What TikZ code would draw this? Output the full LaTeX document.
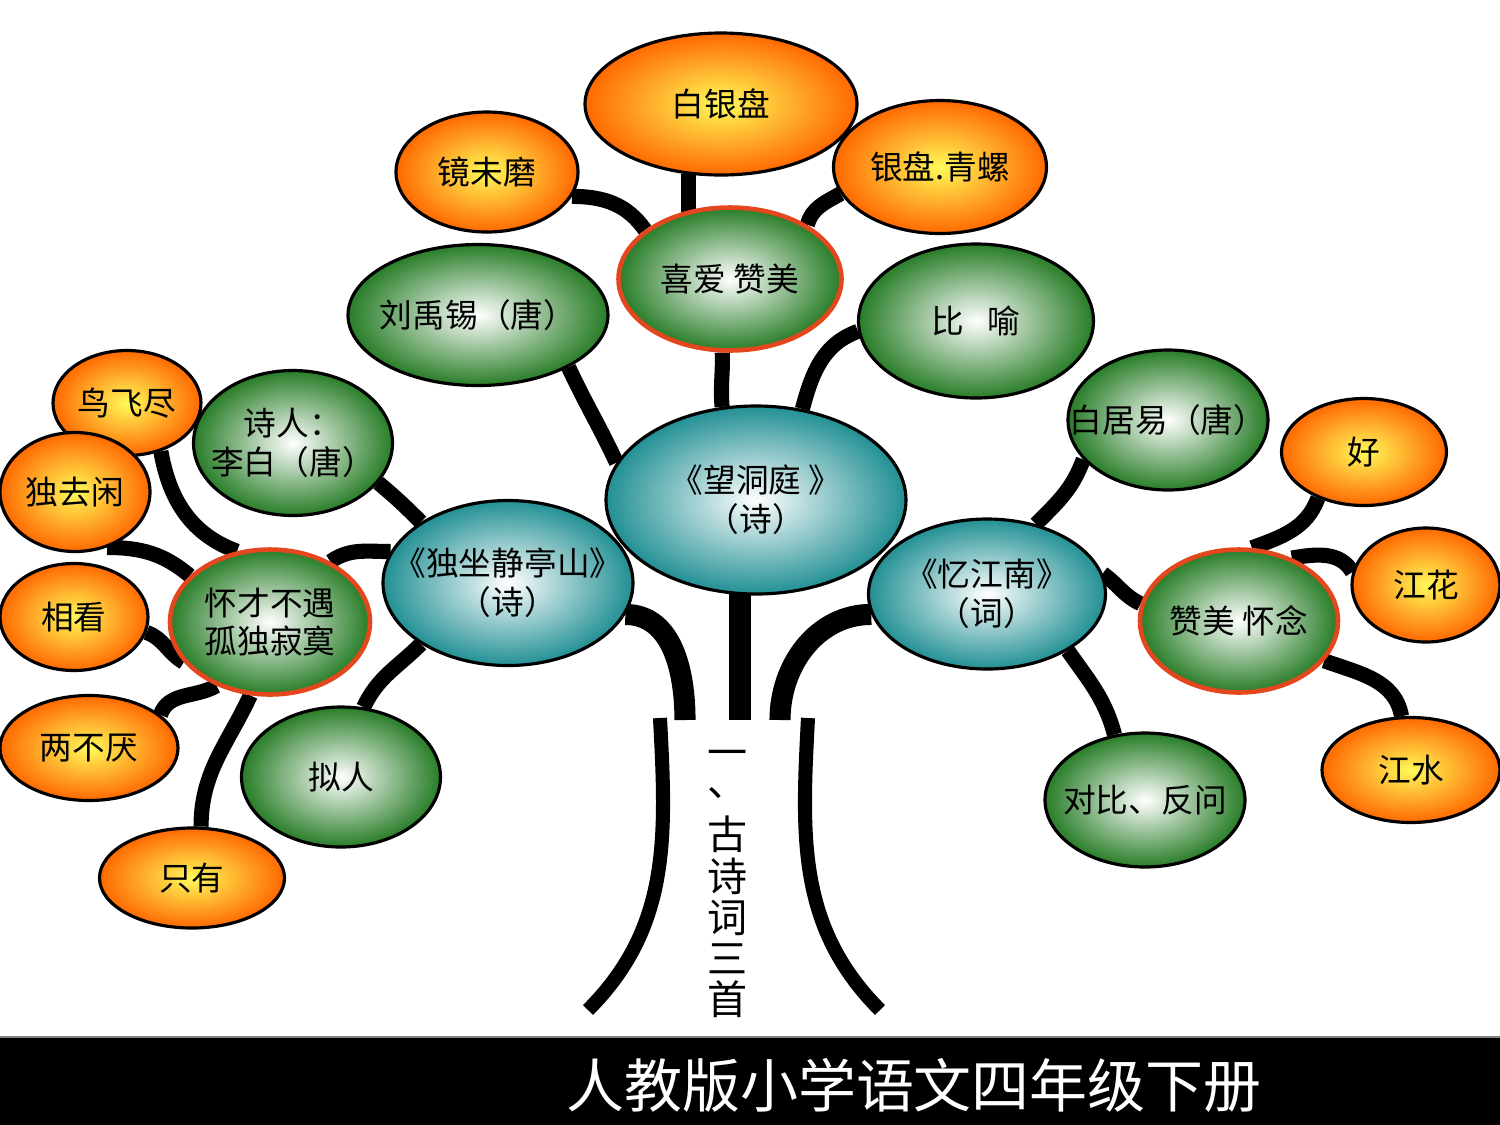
\documentclass[tikz,border=0pt]{standalone}
\usepackage{fontspec}
\setmainfont{Noto Sans CJK SC}
\usetikzlibrary{shapes.geometric,backgrounds}
\definecolor{ballorange}{RGB}{255,105,0}
\definecolor{ballyellow}{RGB}{255,250,90}
\definecolor{ballgreen}{RGB}{40,125,40}
\definecolor{ballteal}{RGB}{34,144,148}
\definecolor{keyred}{RGB}{228,70,30}

\begin{document}
\begin{tikzpicture}[
  x=1cm, y=-1cm,
  font=\fontsize{9.3pt}{11pt}\selectfont,
  dims/.style 2 args={minimum width=#1cm, minimum height=#2cm},
  ball/.style={ellipse, draw=black, line width=0.9pt, inner sep=-20pt, align=center, shading=radial},
  orangeball/.style={ball, inner color=ballyellow, outer color=ballorange},
  greenball/.style={ball, inner color=white, outer color=ballgreen},
  tealball/.style={ball, inner color=white, outer color=ballteal},
  keyball/.style={greenball, draw=keyred, line width=1.3pt},
  twig/.style={line width=4.3pt},
  stem/.style={line width=6pt},
  bark/.style={line width=4pt}
]
\useasboundingbox (0,0) rectangle (15,11.25);

% top: wang dongting
\node[orangeball, dims={2.72}{1.42}] (baiyin) at (7.21,1.04) {白银盘};
\node[orangeball, dims={1.82}{1.20}] (jingwei) at (4.87,1.72) {镜未磨};
\node[orangeball, dims={2.13}{1.33}] (qingluo) at (9.40,1.67) {银盘.青螺};
\node[keyball, dims={2.23}{1.43}] (xiai) at (7.30,2.79) {喜爱 赞美};
\node[greenball, dims={2.60}{1.41}] (liu) at (4.78,3.15) {刘禹锡（唐）};
\node[greenball, dims={2.35}{1.54}] (biyu) at (9.76,3.21) {比\hspace{0.7em}喻};
\node[tealball, dims={3.00}{1.88}] (wang) at (7.56,5.00) {《望洞庭 》\\（诗）};

% left: du zuo jingting shan
\node[orangeball, dims={1.48}{1.05}] (niao) at (1.27,4.03) {鸟飞尽};
\node[greenball, dims={1.99}{1.45}] (libai) at (2.93,4.43) {诗人：\\李白（唐）};
\node[orangeball, dims={1.50}{1.19}] (duqu) at (0.75,4.92) {独去闲};
\node[keyball, dims={2.00}{1.45}] (huai) at (2.70,6.22) {怀才不遇\\孤独寂寞};
\node[tealball, dims={2.50}{1.65}] (duzuo) at (5.08,5.83) {《独坐静亭山》\\（诗）};
\node[orangeball, dims={1.48}{1.07}] (xiang) at (0.74,6.17) {相看};
\node[orangeball, dims={1.78}{1.05}] (liangbu) at (0.89,7.48) {两不厌};
\node[orangeball, dims={1.85}{1.00}] (zhiyou) at (1.92,8.78) {只有};
\node[greenball, dims={1.99}{1.40}] (niren) at (3.41,7.77) {拟人};

% right: yi jiangnan
\node[tealball, dims={2.37}{1.50}] (yijn) at (9.87,5.94) {《忆江南》\\（词）};
\node[greenball, dims={2.00}{1.40}] (baijuyi) at (11.68,4.20) {白居易（唐）};
\node[orangeball, dims={1.65}{1.07}] (hao) at (13.64,4.52) {好};
\node[orangeball, dims={1.48}{1.14}] (jianghua) at (14.26,5.85) {江花};
\node[keyball, dims={1.98}{1.43}] (zanmei) at (12.39,6.21) {赞美 怀念};
\node[orangeball, dims={1.78}{1.05}] (jiangshui) at (14.11,7.70) {江水};
\node[greenball, dims={2.00}{1.34}] (duibi) at (11.45,8.00) {对比、反问};

% trunk
\coordinate (trunkl) at (6.85,7.20);
\coordinate (trunkc) at (7.40,7.20);
\coordinate (trunkr) at (7.80,7.20);
\coordinate (barkltop) at (6.60,7.18);
\coordinate (barklbot) at (5.88,10.10);
\coordinate (barkrtop) at (8.08,7.18);
\coordinate (barkrbot) at (8.80,10.10);

\node[font=\fontsize{11.4pt}{11.7pt}\selectfont, align=center, inner sep=0pt] (title) at (7.28,8.84)
  {一\\\raisebox{0.3em}{、}\\古\\诗\\词\\三\\首};

\begin{pgfonlayer}{background}
\draw[twig] (jingwei.-16) to[out=0,in=125] (xiai.150);
\draw[twig] (baiyin.-115) -- (baiyin.-115 |- xiai.center);
\draw[twig] (qingluo.195) to[out=210,in=75] (xiai.35);
\draw[twig] (xiai.-96) to[out=-88,in=95] (wang.110);
\draw[twig] (liu.-30) to[out=-65,in=115] (wang.165);
\draw[twig] (biyu.185) to[out=200,in=75] (wang.63);

\draw[twig] (libai.-25) to[out=-40,in=135] (duzuo.145);
\draw[twig] (huai.45) to[out=35,in=180] (duzuo.165);
\draw[twig] (niao.-55) to[out=-80,in=160] (huai.115);
\draw[twig] (duqu.-60) to[out=0,in=140] (huai.150);
\draw[twig] (xiang.-12) to[out=-20,in=150] (huai.205);
\draw[twig] (liangbu.25) to[out=70,in=210] (huai.230);
\draw[twig] (zhiyou.80) to[out=90,in=245] (huai.255);
\draw[twig] (niren.72) to[out=65,in=225] (duzuo.215);

\draw[twig] (baijuyi.205) to[out=250,in=45] (yijn.55);
\draw[twig] (yijn.10) to[out=-35,in=155] (zanmei.170);
\draw[twig] (yijn.-35) to[out=-55,in=105] (duibi.115);
\draw[twig] (zanmei.80) to[out=20,in=250] (hao.225);
\draw[twig] (zanmei.50) to[out=10,in=120] (jianghua.170);
\draw[twig] (zanmei.-25) to[out=-20,in=100] (jiangshui.100);

\draw[stem] (duzuo.-15) to[out=0,in=90] (trunkl);
\draw[stem] (trunkc |- wang.center) -- (trunkc);
\draw[stem] (yijn.190) to[out=180,in=90] (trunkr);
\end{pgfonlayer}

\draw[bark] (barkltop) to[out=-87,in=45] (barklbot);
\draw[bark] (barkrtop) to[out=-93,in=135] (barkrbot);

% bottom band
\fill (0,10.38) rectangle (15,11.25);
\draw[gray, line width=0.6pt] (0,10.37) -- (15,10.37);
\node[text=white, font=\fontsize{16.5pt}{18pt}\selectfont] (band) at (9.14,10.85) {人教版小学语文四年级下册};

\end{tikzpicture}
\end{document}
